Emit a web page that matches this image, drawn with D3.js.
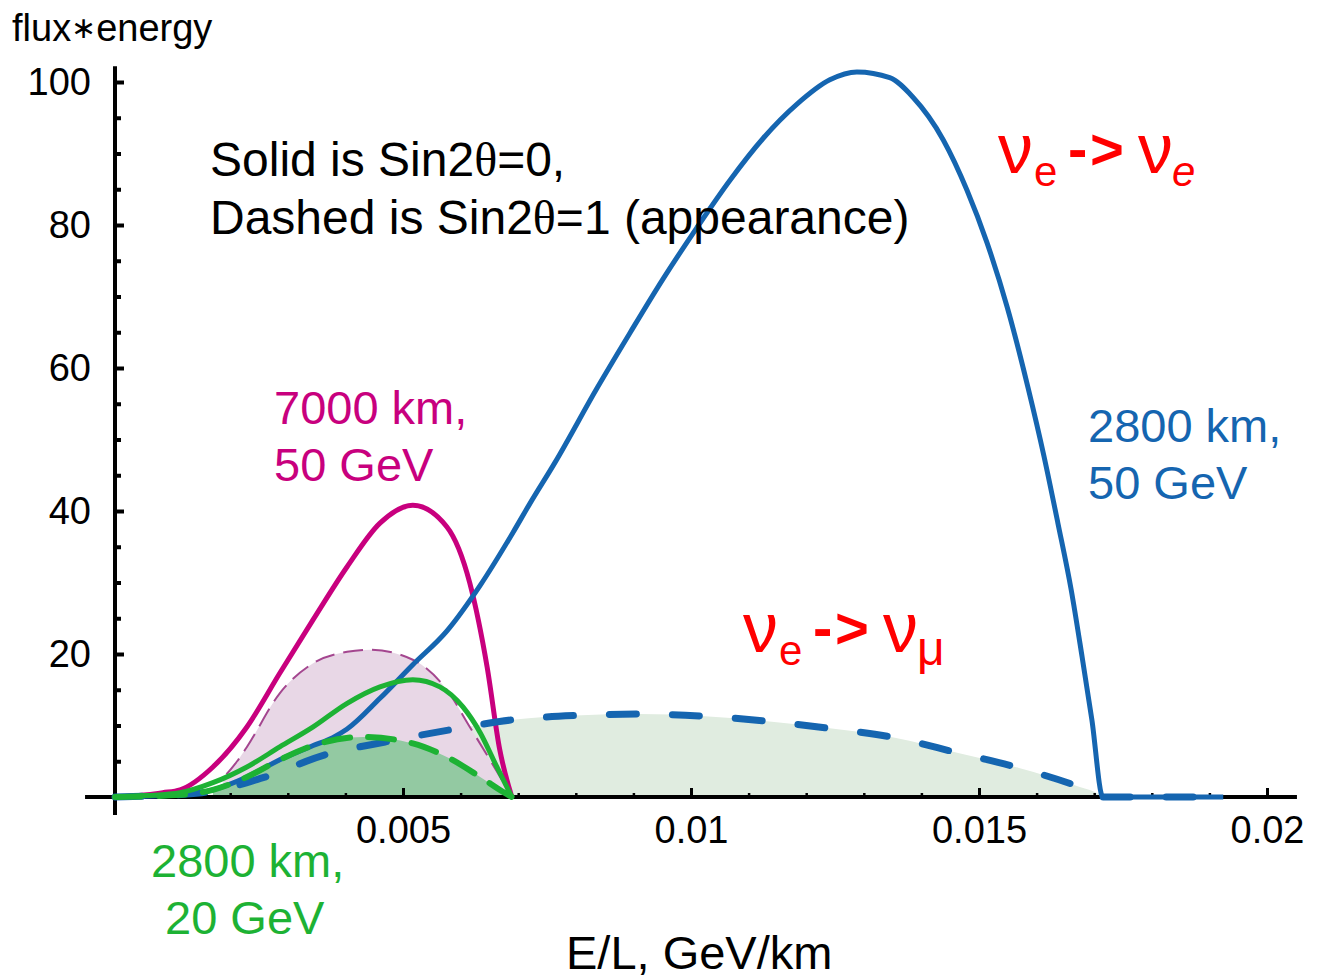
<!DOCTYPE html>
<html>
<head>
<meta charset="utf-8">
<script src="https://cdn.jsdelivr.net/npm/d3@7"></script>
<style>
  body { margin: 0; background: #fff; }
  svg { display: block; }
  text { font-family: "Liberation Sans", Arial, sans-serif; }
</style>
</head>
<body>
<svg id="chart" width="1320" height="980"></svg>
<script>
// E/L (GeV/km) vs flux*energy for three baseline/energy combinations.
// Solid: Sin2θ = 0 (ν_e -> ν_e survival); dashed: Sin2θ = 1 (ν_e -> ν_μ appearance).

const magentaSolid = [[0,0],[0.00056,0.3],[0.00083,0.6],[0.00113,1.0],[0.00170,4.2],[0.00229,9.8],
  [0.00286,17.3],[0.00344,24.8],[0.00403,32.2],[0.00460,38.3],[0.00517,40.8],[0.00576,37.8],
  [0.00616,29.9],[0.00646,18.2],[0.00668,6.6],[0.00689,0]];

const magentaDashed = [[0,0],[0.00113,0.6],[0.00170,2.0],[0.00188,2.8],[0.00212,5.0],[0.00229,7.0],
  [0.00286,14.5],[0.00344,18.7],[0.00403,20.3],[0.00443,20.6],[0.00517,19.2],[0.00576,15.0],
  [0.00616,9.8],[0.00651,5.2],[0.00689,0]];

const greenSolid = [[0,0],[0.00056,0.2],[0.00113,0.6],[0.00170,2.0],[0.00229,4.2],[0.00286,7.0],
  [0.00344,9.8],[0.00403,13.1],[0.00460,15.4],[0.00517,16.4],[0.00564,15.4],[0.00604,12.6],
  [0.00634,9.0],[0.00663,4.2],[0.00689,0]];

const greenDashed = [[0,0],[0.00113,0.3],[0.00170,1.0],[0.00229,2.8],[0.00286,5.2],[0.00344,7.2],
  [0.00431,8.4],[0.00517,7.5],[0.00576,5.6],[0.00634,2.8],[0.00674,0.7],[0.00689,0]];

const blueSolid = [[0,0],[0.00113,0.3],[0.00170,1.0],[0.00229,2.8],[0.00286,5.2],[0.00344,7.2],
  [0.00378,8.3],[0.00403,9.5],[0.00460,13.8],[0.00517,18.5],[0.00576,23.2],[0.00634,29.6],
  [0.00691,37.0],[0.00720,41.0],[0.00764,46.8],[0.00837,57.2],[0.00894,64.9],[0.00951,72.4],
  [0.01010,79.6],[0.01068,86.3],[0.01125,92.1],[0.01184,96.9],[0.01241,100.3],[0.01288,101.4],
  [0.01345,100.6],[0.01385,97.9],[0.01438,91.9],[0.01479,84.9],[0.01514,77.5],[0.01549,68.5],
  [0.01585,57.3],[0.01613,47.6],[0.01637,38.3],[0.01660,29.0],[0.01679,19.6],[0.01696,10.8],
  [0.01715,0],[0.01924,0]];

const blueDashed = [[0,0],[0.00151,0.6],[0.00257,2.7],[0.00365,5.9],[0.00469,7.7],[0.00582,9.4],
  [0.00691,10.8],[0.00799,11.4],[0.00911,11.6],[0.01024,11.3],[0.01132,10.6],[0.01241,9.6],
  [0.01354,8.3],[0.01462,6.2],[0.01568,4.1],[0.01675,1.4],[0.01710,0.3],[0.01715,0],[0.01924,0]];

const xTicks = [0.005, 0.01, 0.015, 0.02];
const xTickLabels = ["0.005", "0.01", "0.015", "0.02"];
const xMinorTicks = d3.range(1, 21).map(i => i / 1000).filter(v => Math.round(v * 1000) % 5 !== 0);
const yTicks = [20, 40, 60, 80, 100];
const yMinorTicks = d3.range(5, 100, 5).filter(v => v % 20 !== 0);

const COL = {
  magenta: "#c8007e",
  magentaDash: "#a4468f",
  pinkFill: "#e8d7e6",
  green: "#1db234",
  greenFill: "#93c9a2",
  lightGreenFill: "#e0ece0",
  blue: "#1565b0",
  red: "#ff0000"
};

const svg = d3.select("#chart");
const x = d3.scaleLinear().domain([0, 0.02]).range([115, 1267]);
const y = d3.scaleLinear().domain([0, 100]).range([797, 82]);

const line = d3.line().x(d => x(d[0])).y(d => y(d[1])).curve(d3.curveMonotoneX);
const area = d3.area().x(d => x(d[0])).y0(y(0)).y1(d => y(d[1])).curve(d3.curveMonotoneX);

// shaded regions under the appearance curves
svg.append("path").datum(blueDashed.filter(d => d[0] >= 0.0019 && d[0] <= 0.01715))
  .attr("d", area).attr("fill", COL.lightGreenFill);
svg.append("path").datum(magentaDashed.filter(d => d[0] >= 0.0018))
  .attr("d", area).attr("fill", COL.pinkFill);
svg.append("path").datum(greenDashed.filter(d => d[0] >= 0.0017))
  .attr("d", area).attr("fill", COL.greenFill);

// axes
const gY = svg.append("g").attr("transform", `translate(${x(0)},0)`)
  .call(d3.axisLeft(y).tickValues(yTicks).tickSize(-9).tickPadding(24).tickFormat(d3.format("d")));
const gYm = svg.append("g").attr("transform", `translate(${x(0)},0)`)
  .call(d3.axisLeft(y).tickValues(yMinorTicks).tickSize(-6).tickFormat(() => ""));
const gX = svg.append("g").attr("transform", `translate(0,${y(0)})`)
  .call(d3.axisBottom(x).tickValues(xTicks).tickSize(-9).tickPadding(19)
    .tickFormat((d, i) => xTickLabels[i]));
const gXm = svg.append("g").attr("transform", `translate(0,${y(0)})`)
  .call(d3.axisBottom(x).tickValues(xMinorTicks).tickSize(-4).tickFormat(() => ""));

[gY, gYm, gX, gXm].forEach(g => {
  g.select(".domain").remove();
  g.selectAll("line").attr("stroke", "#000").attr("stroke-width", 4);
  g.attr("font-size", 38).attr("font-family", "\"Liberation Sans\", Arial, sans-serif");
  g.selectAll("text").attr("fill", "#000");
});
gX.selectAll("line").attr("stroke-width", 3);
gXm.selectAll("line").attr("stroke-width", 2.5);

svg.append("line")
  .attr("x1", x(0)).attr("x2", x(0)).attr("y1", y(-2.5)).attr("y2", y(102.2))
  .attr("stroke", "#000").attr("stroke-width", 4);
svg.append("line")
  .attr("x1", x(-0.00052)).attr("x2", x(0.02052)).attr("y1", y(0)).attr("y2", y(0))
  .attr("stroke", "#000").attr("stroke-width", 4);

// curves
function curve(data, color, width, dash) {
  const p = svg.append("path").datum(data).attr("d", line)
    .attr("fill", "none").attr("stroke", color).attr("stroke-width", width)
    .attr("stroke-linejoin", "round");
  if (dash) p.attr("stroke-dasharray", dash).attr("stroke-linecap", "round");
  return p;
}
curve(magentaDashed, COL.magentaDash, 2, "20,9").attr("stroke-linecap", "butt");
curve(magentaSolid, COL.magenta, 5);
curve(blueSolid, COL.blue, 5);
curve(blueDashed, COL.blue, 7, "27,36");
curve(greenDashed, COL.green, 6, "26,18");
curve(greenSolid, COL.green, 5);

// text
function label(txt, px, py, size, color) {
  return svg.append("text").attr("x", px).attr("y", py).attr("font-size", size)
    .attr("fill", color || "#000").text(txt);
}
svg.append("text").attr("x", 12).attr("y", 41).attr("font-size", 38)
  .call(t => { t.append("tspan").text("flux");
               t.append("tspan").attr("font-size", 30).attr("dy", -3).text("∗");
               t.append("tspan").attr("dy", 3).text("energy"); });

label("E/L, GeV/km", 566, 969, 47);

function thetaLine(prefix, suffix, py) {
  const t = svg.append("text").attr("x", 210).attr("y", py).attr("font-size", 48).attr("fill", "#000");
  t.append("tspan").text(prefix);
  t.append("tspan").attr("font-family", "\"Liberation Serif\", serif").text("θ");
  t.append("tspan").text(suffix);
}
thetaLine("Solid is Sin2", "=0,", 176);
thetaLine("Dashed is Sin2", "=1 (appearance)", 234);

label("7000 km,", 274, 424, 47, COL.magenta);
label("50 GeV", 274, 481, 47, COL.magenta);
label("2800 km,", 1088, 442, 47, COL.blue);
label("50 GeV", 1088, 499, 47, COL.blue);
label("2800 km,", 151, 877, 47, COL.green);
label("20 GeV", 165, 934, 47, COL.green);

// oscillation channel labels
function channel(x0, base, finalSub, finalSerif, finalItalic) {
  const serif = "\"Liberation Serif\", serif";
  const g = svg.append("g").attr("fill", COL.red);
  g.append("text").attr("x", x0 - 2).attr("y", base).attr("font-size", 70)
    .attr("font-family", serif).text("ν");
  g.append("text").attr("x", x0 + 34).attr("y", base + 13).attr("font-size", 42).text("e");
  g.append("text").attr("x", x0 + 68).attr("y", base - 4).attr("font-size", 58)
    .attr("font-weight", "bold").text("-");
  g.append("text").attr("x", x0 + 90).attr("y", base - 4).attr("font-size", 58)
    .attr("font-weight", "bold").text(">");
  g.append("text").attr("x", x0 + 138).attr("y", base).attr("font-size", 70)
    .attr("font-family", serif).text("ν");
  const s = g.append("text").attr("x", x0 + 172).attr("y", base + 13)
    .attr("font-size", finalSerif ? 48 : 42).text(finalSub);
  if (finalSerif) s.attr("font-family", serif);
  if (finalItalic) s.attr("font-style", "italic");
}
channel(1000, 173, "e", false, true);
channel(745, 652, "μ", true, false);
</script>
</body>
</html>
